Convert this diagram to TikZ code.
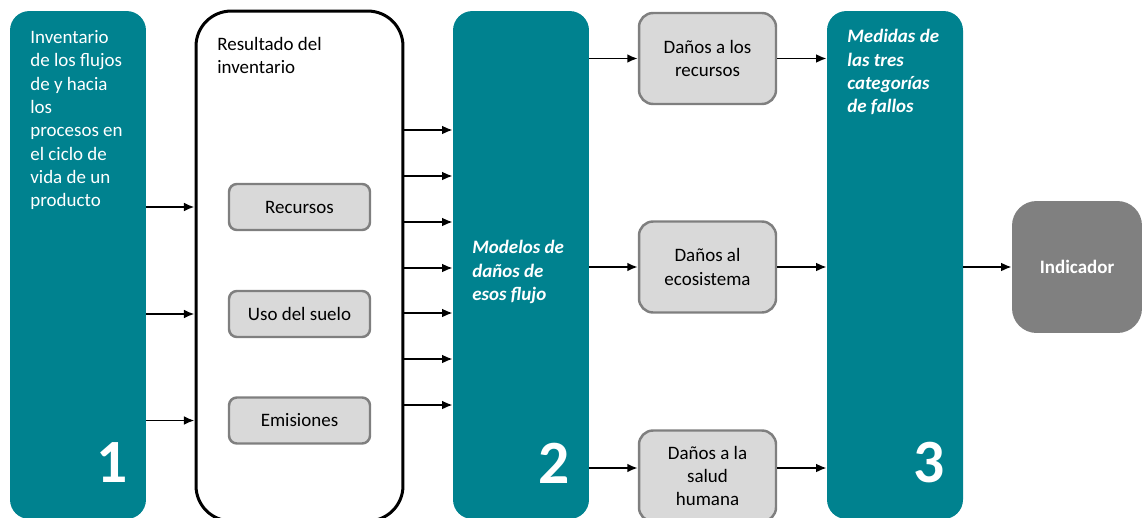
\documentclass[tikz,border=0pt]{standalone}
\usepackage{fontspec}
\setmainfont{Carlito}
\usepackage{tikz}
\usetikzlibrary{positioning}
\usetikzlibrary{arrows.meta}
\definecolor{tealbox}{HTML}{00828F}
\definecolor{lightbox}{HTML}{D9D9D9}
\definecolor{edgegray}{HTML}{7F7F7F}
\definecolor{indgray}{HTML}{808080}
\tikzset{
  stagebox/.style={fill=tealbox,rounded corners=11pt,minimum width=2.72cm,minimum height=10.16cm,inner sep=0pt},
  resbox/.style={draw=black,line width=1.7pt,rounded corners=20pt,minimum width=4.14cm,minimum height=10.2cm,inner sep=0pt},
  flowbox/.style={draw=edgegray,fill=lightbox,line width=1.4pt,rounded corners=4.5pt,minimum width=2.82cm,minimum height=0.92cm},
  damagebox/.style={draw=edgegray,fill=lightbox,line width=1.4pt,rounded corners=8pt,minimum width=2.74cm,minimum height=1.82cm,align=center},
  indbox/.style={fill=indgray,rounded corners=14pt,minimum width=2.6cm,minimum height=2.64cm,text=white,font=\fontsize{10.8}{13.3}\selectfont\bfseries},
  stagetext/.style={anchor=north west,align=left,inner sep=0pt,text=white},
  stagenum/.style={text=white,font=\fontsize{35}{35}\selectfont\bfseries},
  flow/.style={->,>={Latex[length=6pt,width=5pt]},line width=1.1pt}
}
\begin{document}
\begin{tikzpicture}[x=0.02cm,y=-0.02cm,every node/.append style={font=\fontsize{10.8}{13.3}\selectfont}]
\useasboundingbox (0,0) rectangle (1142,517);
\clip (0,0) rectangle (1142,517);
\node[stagebox] (inv) at (78,265) {};
\node[resbox] (res) at (299.5,266) {};
\node[stagebox] (mod) at (521,265) {};
\node[stagebox] (med) at (895,265) {};
\node[indbox] (ind) at (1077,267) {Indicador};
\node[flowbox] (rec) at (299.5,207) {Recursos};
\node[flowbox] (uso) at (299.5,314) {Uso del suelo};
\node[flowbox] (emi) at (299.5,420.5) {Emisiones};
\node[damagebox] (drec) at (707.5,58.5) {Daños a los\\recursos};
\node[damagebox] (deco) at (707.5,267) {Daños al\\ecosistema};
\node[damagebox] (dsal) at (707.5,476) {Daños a la\\salud\\humana};
\node[stagetext] (invtxt) at (30,30) {Inventario\\de los flujos\\de y hacia\\los\\procesos en\\el ciclo de\\vida de un\\producto};
\node[stagetext,text=black] (restxt) at (217,37) {Resultado del\\inventario};
\node[stagetext,font=\fontsize{10.8}{13.3}\selectfont\bfseries\itshape] (modtxt) at (472,240) {Modelos de\\daños de\\esos flujo};
\node[stagetext,font=\fontsize{10.8}{13.3}\selectfont\bfseries\itshape] (medtxt) at (847,29) {Medidas de\\las tres\\categorías\\de fallos};
\node[stagenum] (n1) at (112,463) {1};
\node[stagenum] (n2) at (554,463) {2};
\node[stagenum] (n3) at (929,463) {3};
\foreach \r in {rec,uso,emi}
  \draw[flow] (inv.east |- \r) -- (res.west |- \r);
\foreach \y in {130,176,222,268,313,359,405}
  \draw[flow] (res.east |- 0,\y) -- (mod.west |- 0,\y);
\draw[flow] (mod.east |- drec) -- (drec);
\draw[flow] (mod.east |- deco) -- (deco);
\draw[flow] (mod.east |- 0,468) -- (dsal.west |- 0,468);
\draw[flow] (drec) -- (med.west |- drec);
\draw[flow] (deco) -- (med.west |- deco);
\draw[flow] (dsal.east |- 0,468) -- (med.west |- 0,468);
\draw[flow] (med.east |- ind) -- (ind);
\end{tikzpicture}
\end{document}
